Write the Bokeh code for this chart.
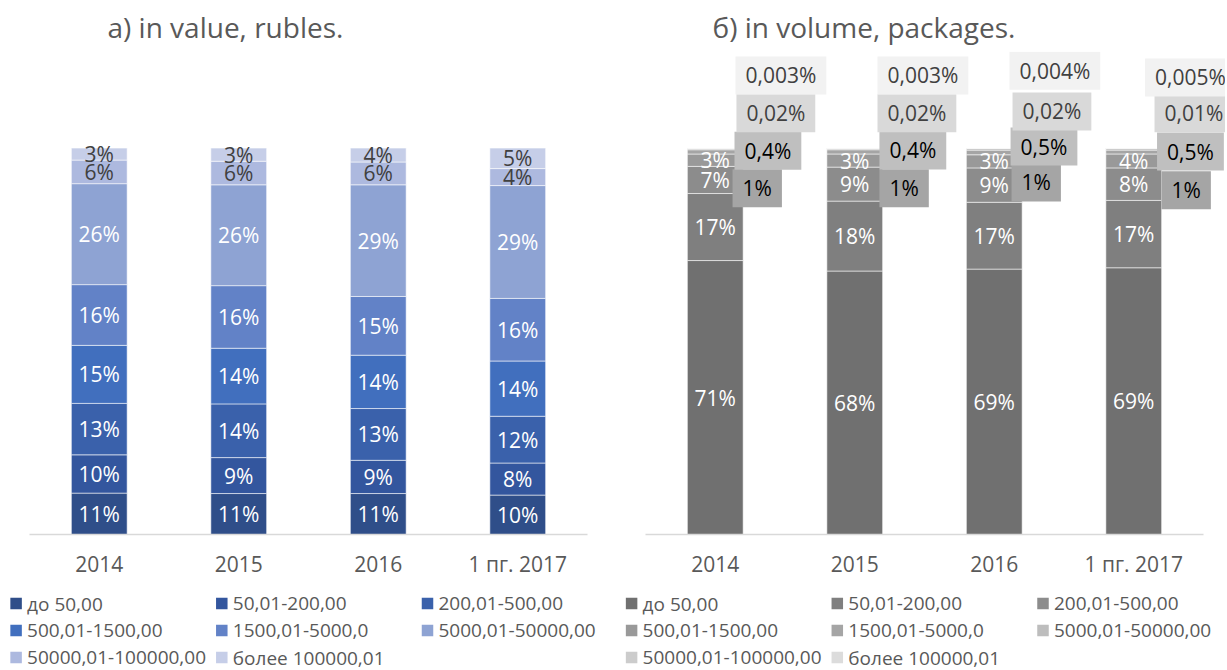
from bokeh.plotting import figure
from bokeh.models import ColumnDataSource, Range1d, FixedTicker
from bokeh.layouts import row, column
from bokeh.embed import file_html
from bokeh.resources import INLINE
from bokeh.core.properties import field, value

# ---------------- data ----------------
categories = ["2014", "2015", "2016", "1 пг. 2017"]
series_names = ["до 50,00", "50,01-200,00", "200,01-500,00", "500,01-1500,00",
                "1500,01-5000,0", "5000,01-50000,00", "50000,01-100000,00", "более 100000,01"]

# a) in value, rubles (% share)
value_do_50 = [10.7, 10.6, 10.6, 10.2]
value_50_200 = [9.9, 9.3, 8.6, 8.3]
value_200_500 = [13.3, 13.9, 13.4, 12.1]
value_500_1500 = [15.0, 14.4, 13.8, 14.3]
value_1500_5000 = [15.7, 16.2, 15.2, 16.2]
value_5000_50000 = [26.1, 26.1, 28.9, 29.2]
value_50000_100000 = [6.1, 6.1, 5.9, 4.4]
value_over_100000 = [3.1, 3.4, 3.6, 5.3]

# б) in volume, packages (% share)
volume_do_50 = [70.7, 68.2, 68.7, 68.9]
volume_50_200 = [17.3, 18.1, 17.3, 17.4]
volume_200_500 = [7.0, 8.8, 8.9, 8.4]
volume_500_1500 = [3.2, 3.4, 3.4, 3.6]
volume_1500_5000 = [1.1, 1.1, 1.2, 1.0]
volume_5000_50000 = [0.4, 0.4, 0.5, 0.5]
volume_50000_100000 = [0.02, 0.02, 0.02, 0.01]
volume_over_100000 = [0.003, 0.003, 0.004, 0.005]

value_series = [value_do_50, value_50_200, value_200_500, value_500_1500,
                value_1500_5000, value_5000_50000, value_50000_100000, value_over_100000]
volume_series = [volume_do_50, volume_50_200, volume_200_500, volume_500_1500,
                 volume_1500_5000, volume_5000_50000, volume_50000_100000, volume_over_100000]

# ---------------- style ----------------
FONT = "Open Sans"
TXT = "#595959"
blue_colors = ["#2f4e89", "#33569e", "#3a61ab", "#416fbe", "#6282c7", "#8ea3d3", "#adb9df", "#c6cee8"]
grey_colors = ["#707070", "#7f7f7f", "#8c8c8c", "#999999", "#a5a5a5", "#bdbdbd", "#cccccc", "#dcdcdc"]
callout_bg = ["#a5a5a5", "#bfbfbf", "#d9d9d9", "#f2f2f2"]
callout_tc = ["#000000", "#000000", "#404040", "#404040"]
# callout box left edge offsets from bar centre (x units) and centre heights (y units)
callout_dx = [[0.124, 0.138, 0.152, 0.145], [0.177, 0.177, 0.163, 0.163],
              [0.124, 0.117, 0.131, 0.109], [0.199, 0.167, 0.149, 0.081]]
callout_y = [[89.6, 99.3, 109.0, 118.8], [89.6, 99.4, 109.0, 118.8],
             [91.1, 100.4, 109.5, 120.0], [89.1, 99.1, 109.0, 118.3]]
PX_PER_CAT = 139.5


def fmt(v):
    if v >= 1:
        return f"{round(v)}%"
    return f"{v:g}".replace(".", ",") + "%"


def make_chart(title, series, colors, inner_colors, n_inner, left_border, right_border,
               frame_w, title_offset):
    x_end = -0.5 + frame_w / PX_PER_CAT
    p = figure(frame_width=frame_w, frame_height=483, x_range=Range1d(-0.5, x_end), y_range=Range1d(0, 125),
               output_backend="svg", toolbar_location=None, title=title,
               min_border_left=left_border, min_border_right=right_border,
               min_border_top=50, min_border_bottom=53)
    p.title.text_font = FONT
    p.title.text_font_size = "28px"
    p.title.text_font_style = "normal"
    p.title.text_color = TXT
    p.title.align = "left"
    p.title.offset = title_offset
    p.title.standoff = 11
    p.outline_line_color = None
    p.xgrid.visible = False
    p.ygrid.visible = False
    p.yaxis.visible = False
    ax = p.xaxis[0]
    ax.ticker = FixedTicker(ticks=list(range(len(categories))))
    ax.major_label_overrides = {i: c for i, c in enumerate(categories)}
    ax.bounds = (-0.5, len(categories) - 0.5)
    ax.axis_line_color = "#d9d9d9"
    ax.axis_line_width = 1.5
    ax.major_tick_line_color = None
    ax.minor_tick_line_color = None
    ax.major_label_text_font = FONT
    ax.major_label_text_font_size = "21px"
    ax.major_label_text_color = TXT
    ax.major_label_standoff = 9

    n = len(categories)
    totals = [sum(s[i] for s in series) for i in range(n)]
    norm = [[s[i] * 100.0 / totals[i] for i in range(n)] for s in series]
    keys = [f"s{k}" for k in range(len(series))]
    data = {"x": list(range(n))}
    for k, s in zip(keys, norm):
        data[k] = s
    src = ColumnDataSource(data)
    p.vbar_stack(keys, x="x", width=0.4, fill_color=colors, line_color="white",
                 line_alpha=0.55, line_width=1, source=src)

    # labels inside bars
    lx, ly, lt, lc = [], [], [], []
    for i in range(n):
        cum = 0.0
        for k in range(len(series)):
            v = norm[k][i]
            if k < n_inner:
                lx.append(i)
                ly.append(cum + v / 2)
                lt.append(fmt(series[k][i]))
                lc.append(inner_colors[k])
            cum += v
    p.text(x=lx, y=ly, text=lt, text_color=lc, text_align="center", text_baseline="middle",
           text_font_size="21px", text_font=value(FONT))
    return p


p1 = make_chart("а) in value, rubles.", value_series, blue_colors,
                ["white"] * 6 + ["#404040"] * 2, 8, 29, 31, 558, 78)
p2 = make_chart("б) in volume, packages.", volume_series, grey_colors,
                ["white"] * 4, 4, 27, 0, 580, 67)

# callouts for tiny segments of the volume chart
cx, cy, ct, cbg, ctc = [], [], [], [], []
for i in range(len(categories)):
    for j, k in enumerate(range(4, 8)):
        cx.append(i + callout_dx[i][j])
        cy.append(callout_y[i][j])
        ct.append(fmt(volume_series[k][i]))
        cbg.append(callout_bg[j])
        ctc.append(callout_tc[j])
csrc = ColumnDataSource(dict(x=cx, y=cy, text=ct, bg=cbg, tc=ctc))
p2.text(x="x", y="y", text="text", source=csrc, text_color=field("tc"),
        background_fill_color=field("bg"), padding=(10, 5),
        text_align="left", text_baseline="middle", text_font_size="21px", text_font=value(FONT))

# legends (3 columns x 3 rows under each chart)
LEG_W, LEG_H = 1225, 84
leg = figure(width=LEG_W, height=LEG_H, x_range=Range1d(0, LEG_W), y_range=Range1d(LEG_H, 0),
             output_backend="svg", toolbar_location=None, min_border=0,
             x_axis_location=None, y_axis_location=None)
leg.outline_line_color = None
leg.xgrid.visible = False
leg.ygrid.visible = False
for group_x, cols in [(0.0, blue_colors), (615.5, grey_colors)]:
    mx = [group_x + 15.6 + 205.7 * (k % 3) for k in range(len(series_names))]
    my = [16 + 27 * (k // 3) for k in range(len(series_names))]
    leg.scatter(x=mx, y=my, marker="square", size=11.5, fill_color=cols, line_color=None)
    leg.text(x=[m + 11 for m in mx], y=my, text=series_names, text_align="left",
             text_baseline="middle", text_font_size="19px", text_font=value(FONT), text_color=TXT)

layout = column(row(p1, p2), leg)
open("out.html", "w").write(file_html(layout, INLINE))
